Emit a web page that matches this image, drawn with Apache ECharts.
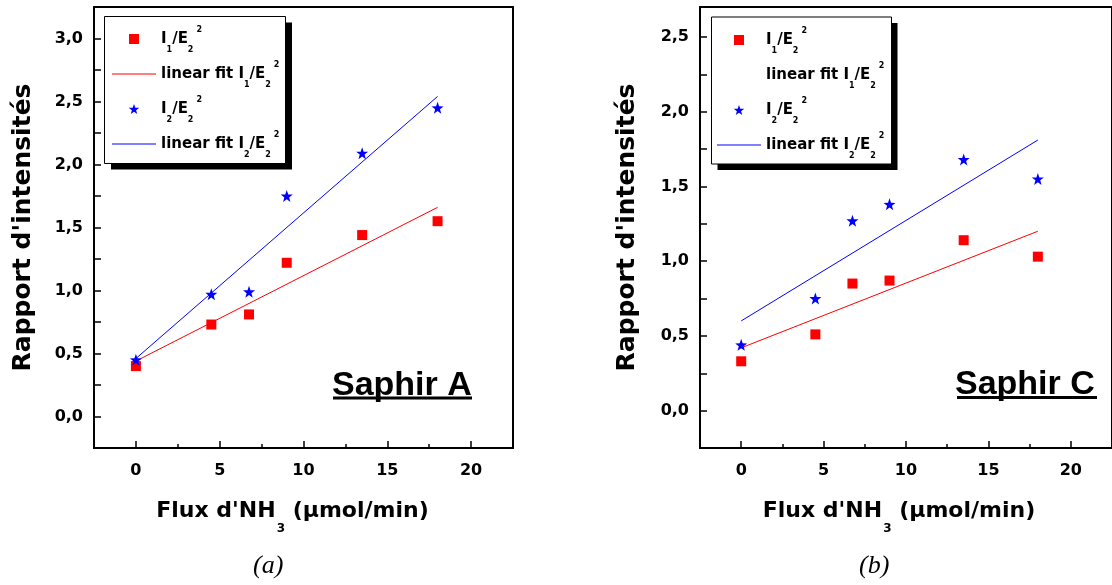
<!DOCTYPE html>
<html><head><meta charset="utf-8">
<script src="https://cdn.jsdelivr.net/npm/echarts@6/dist/echarts.min.js"></script>
<style>html,body{margin:0;padding:0;background:#fff}#c{width:1112px;height:585px}</style>
</head><body><div id="c"></div>
<script>
// ---------- data ----------
const flux = [0, 4.5, 6.75, 9, 13.5, 18];
const saphirA_I1 = [0.40, 0.73, 0.81, 1.22, 1.44, 1.55];
const saphirA_I2 = [0.45, 0.97, 0.99, 1.75, 2.09, 2.45];
const saphirC_I1 = [0.33, 0.51, 0.85, 0.87, 1.14, 1.03];
const saphirC_I2 = [0.44, 0.75, 1.27, 1.38, 1.68, 1.55];
const fitX = [0, 18];
const saphirA_fitI1 = [0.44, 1.66];
const saphirA_fitI2 = [0.46, 2.54];
const saphirC_fitI1 = [0.42, 1.20];
const saphirC_fitI2 = [0.60, 1.81];
const xMajorTicks = [0, 5, 10, 15, 20];
const xMinorTicks = [2.5, 7.5, 12.5, 17.5];
const yTicksA = [0, 0.25, 0.5, 0.75, 1, 1.25, 1.5, 1.75, 2, 2.25, 2.5, 2.75, 3];
const yLabelsA = [0, 0.5, 1, 1.5, 2, 2.5, 3];
const yTicksC = [0, 0.25, 0.5, 0.75, 1, 1.25, 1.5, 1.75, 2, 2.25, 2.5];
const yLabelsC = [0, 0.5, 1, 1.5, 2, 2.5];
const seriesNames = ['I1/E2^2', 'linear fit I1/E2^2', 'I2/E2^2', 'linear fit I2/E2^2'];
const richNames = {
  'I1/E2^2': '{m|I}{s|1}{m|/E}{s|2}{p|2}',
  'linear fit I1/E2^2': '{m|linear fit I}{s|1}{m|/E}{s|2}{p|2}',
  'I2/E2^2': '{m|I}{s|2}{m|/E}{s|2}{p|2}',
  'linear fit I2/E2^2': '{m|linear fit I}{s|2}{m|/E}{s|2}{p|2}'
};
const xTitle = "{m|Flux d'NH}{s|3}{m| (µmol/min)}";
const yTitle = "Rapport d'intensités";
const panelLabels = ['Saphir A', 'Saphir C'];
const captions = ['(a)', '(b)'];

// ---------- styles ----------
const FONT = 'DejaVu Sans';
const RED = '#ff0000', BLUE = '#0000ff';
const squarePath = 'path://M0,0H10V10H0Z';
const starPath = 'path://M50,0L61.76,33.82L97.55,34.55L69.02,56.18L79.39,90.45L50,70L20.61,90.45L30.98,56.18L2.45,34.55L38.24,33.82Z';
const linePath = 'path://M0,0H44V1H0Z';

const zip = (xs, ys) => xs.map((x, i) => [x, ys[i]]);
const fmt = v => v.toFixed(1).replace('.', ',');

const legendRich = {
  m: {fontFamily: FONT, fontWeight: 'bold', fontSize: 15, color: '#000', lineHeight: 34, verticalAlign: 'middle'},
  s: {fontFamily: FONT, fontWeight: 'bold', fontSize: 8, color: '#000', verticalAlign: 'top', padding: [24, 0, 0, 0]},
  p: {fontFamily: FONT, fontWeight: 'bold', fontSize: 8, color: '#000', verticalAlign: 'top', padding: [4, 0, 0, 3]}
};
const xTitleRich = {
  m: {fontFamily: FONT, fontWeight: 'bold', fontSize: 22, color: '#000', lineHeight: 48, verticalAlign: 'middle'},
  s: {fontFamily: FONT, fontWeight: 'bold', fontSize: 12, color: '#000', verticalAlign: 'top', padding: [36, 0, 0, 1]}
};

function makeLegend(left, top, hideFit1) {
  return {
    orient: 'vertical', left: left, top: top, align: 'left', z: 6,
    padding: 0, itemGap: 7, itemWidth: 44, itemHeight: 10,
    selectedMode: false,
    data: [
      {name: seriesNames[0], icon: squarePath},
      {name: seriesNames[1], icon: hideFit1 ? 'none' : linePath},
      {name: seriesNames[2], icon: starPath},
      {name: seriesNames[3], icon: linePath}
    ],
    formatter: n => richNames[n],
    textStyle: {rich: legendRich}
  };
}

function xAxes(grid, padRight) {
  return [
    {
      type: 'value', gridIndex: grid, position: 'bottom', min: -2.5, max: 22.5,
      axisLine: {show: true, onZero: false, lineStyle: {color: '#000', width: 2}},
      axisTick: {show: true, inside: true, length: 7, customValues: xMajorTicks, lineStyle: {color: '#000', width: 1.5}},
      axisLabel: {customValues: xMajorTicks, margin: 15, color: '#000', fontFamily: FONT, fontWeight: 'bold', fontSize: 16},
      splitLine: {show: false},
      name: xTitle, nameLocation: 'middle', nameGap: 39,
      nameTextStyle: {rich: xTitleRich, padding: [0, padRight, 0, 0]}
    },
    {
      type: 'value', gridIndex: grid, position: 'bottom', min: -2.5, max: 22.5,
      axisLine: {show: false, onZero: false},
      axisTick: {show: true, inside: true, length: 4, customValues: xMinorTicks, lineStyle: {color: '#000', width: 1.5}},
      axisLabel: {show: false},
      splitLine: {show: false}
    }
  ];
}

function yAxis(grid, max, ticks, labels, gap) {
  return {
    type: 'value', gridIndex: grid, min: -0.25, max: max,
    axisLine: {show: true, onZero: false, lineStyle: {color: '#000', width: 2}},
    axisTick: {show: true, inside: true, length: 7, customValues: ticks, lineStyle: {color: '#000', width: 1.5}},
    axisLabel: {customValues: labels, formatter: fmt, margin: 11, color: '#000', fontFamily: FONT, fontWeight: 'bold', fontSize: 16},
    splitLine: {show: false},
    name: yTitle, nameLocation: 'middle', nameGap: gap, nameRotate: 90,
    nameTextStyle: {fontFamily: FONT, fontWeight: 'bold', fontSize: 25, color: '#000'}
  };
}

function panelSeries(xi, yi, i1, i2, f1, f2) {
  return [
    {name: seriesNames[1], type: 'line', xAxisIndex: xi, yAxisIndex: yi, data: zip(fitX, f1),
     symbol: 'none', showSymbol: false, itemStyle: {color: RED}, lineStyle: {color: RED, width: 1}, z: 2},
    {name: seriesNames[3], type: 'line', xAxisIndex: xi, yAxisIndex: yi, data: zip(fitX, f2),
     symbol: 'none', showSymbol: false, itemStyle: {color: BLUE}, lineStyle: {color: BLUE, width: 1}, z: 2},
    {name: seriesNames[0], type: 'scatter', xAxisIndex: xi, yAxisIndex: yi, data: zip(flux, i1),
     symbol: squarePath, symbolSize: 10, itemStyle: {color: RED, opacity: 1}, z: 3},
    {name: seriesNames[2], type: 'scatter', xAxisIndex: xi, yAxisIndex: yi, data: zip(flux, i2),
     symbol: starPath, symbolSize: 12, itemStyle: {color: BLUE, opacity: 1}, z: 4}
  ];
}

const chart = echarts.init(document.getElementById('c'), null, {renderer: 'canvas'});
chart.setOption({
  backgroundColor: '#fff',
  animation: false,
  grid: [
    {left: 94, top: 7, width: 419, height: 441, show: true, borderColor: '#000', borderWidth: 2, backgroundColor: 'transparent'},
    {left: 700, top: 7, width: 418, height: 441, show: true, borderColor: '#000', borderWidth: 2, backgroundColor: 'transparent'}
  ],
  xAxis: [...xAxes(0, 22), ...xAxes(1, 14)],
  yAxis: [yAxis(0, 3.25, yTicksA, yLabelsA, 58), yAxis(1, 2.7, yTicksC, yLabelsC, 60)],
  legend: [makeLegend(112, 26, false), makeLegend(717, 27, true)],
  series: [
    ...panelSeries(0, 0, saphirA_I1, saphirA_I2, saphirA_fitI1, saphirA_fitI2),
    ...panelSeries(2, 1, saphirC_I1, saphirC_I2, saphirC_fitI1, saphirC_fitI2)
  ],
  graphic: [
    // legend frames with offset black shadow
    {type: 'rect', z: 1, shape: {x: 111, y: 22.5, width: 181, height: 147}, style: {fill: '#000'}},
    {type: 'rect', z: 1, shape: {x: 104.5, y: 16.5, width: 181, height: 147}, style: {fill: '#fff', stroke: '#000', lineWidth: 1}},
    {type: 'rect', z: 1, shape: {x: 717.5, y: 23, width: 180, height: 147}, style: {fill: '#000'}},
    {type: 'rect', z: 1, shape: {x: 711.5, y: 17, width: 180, height: 147}, style: {fill: '#fff', stroke: '#000', lineWidth: 1}},
    // panel labels
    {type: 'text', left: 332, top: 369, z: 10, style: {text: panelLabels[0], font: "bold 34px 'Liberation Sans'", fill: '#000'}},
    {type: 'rect', z: 10, shape: {x: 333, y: 396.5, width: 139, height: 3}, style: {fill: '#000'}},
    {type: 'text', left: 955, top: 368, z: 10, style: {text: panelLabels[1], font: "bold 34px 'Liberation Sans'", fill: '#000'}},
    {type: 'rect', z: 10, shape: {x: 957, y: 396, width: 140, height: 3}, style: {fill: '#000'}},
    // captions
    {type: 'text', left: 253, top: 553, z: 10, style: {text: captions[0], font: "italic 26px 'Liberation Serif'", fill: '#000'}},
    {type: 'text', left: 859, top: 553, z: 10, style: {text: captions[1], font: "italic 26px 'Liberation Serif'", fill: '#000'}}
  ]
});
</script></body></html>
